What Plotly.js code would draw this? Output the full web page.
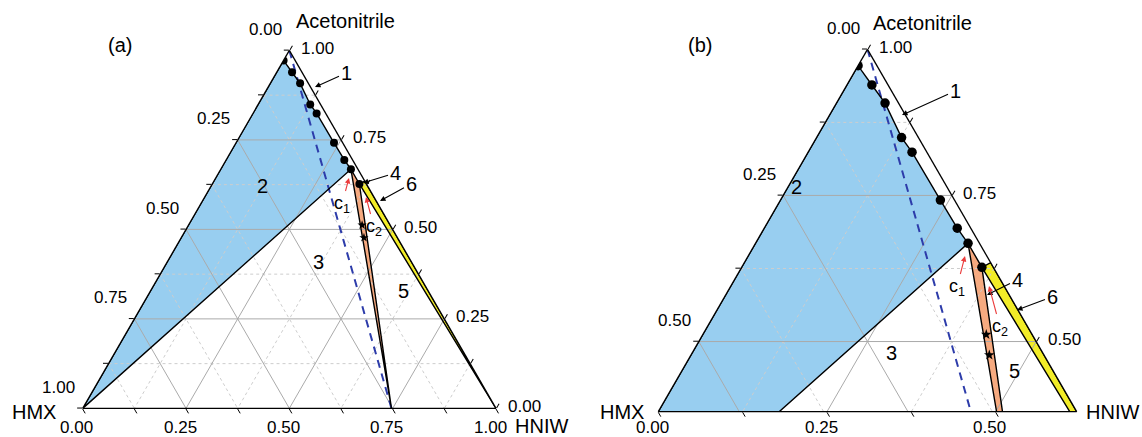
<!DOCTYPE html>
<html><head><meta charset="utf-8">
<script src="https://cdn.plot.ly/plotly-3.0.1.min.js"></script>
<style>html,body{margin:0;padding:0;background:#fff}#chart{width:1142px;height:437px}</style>
</head><body><div id="chart"></div>
<script>
// Components: a = Acetonitrile (top vertex), b = HMX (bottom-left), c = HNIW (bottom-right)
// HMX solubility branch (from binary HMX/acetonitrile point down to invariant point c1)
const solAcn = [0.972, 0.939, 0.908, 0.849, 0.824, 0.742, 0.694, 0.668];
const solHMX = [0.028, 0.024, 0.020, 0.025, 0.022, 0.021, 0.020, 0.017];
// invariant point c2
const c2Acn = 0.627, c2HMX = 0.017;
// binary HNIW / acetonitrile solubility point (on the right edge)
const hniwBinAcn = 0.635, hniwBinHMX = 0.0;
// cocrystal composition (no solvent)
const coCrystalHMX = 0.253;
// wet residue (stars)
const starAcn = [0.512, 0.477];
const starHMX = [0.068, 0.081];
// ticks
const majorVals = [0, 0.25, 0.5, 0.75, 1];
const minorVals = [0.125, 0.375, 0.625, 0.875];
const zoomMinAcn = 0.38;

const W = 1142, H = 437;
const FONT = 'Liberation Sans, Arial, sans-serif';
const BLUE = 'rgb(152,206,240)', ORANGE = 'rgb(246,170,128)', YELLOW = 'rgb(242,236,40)';
const DASH = 'rgb(45,60,170)';

// panel geometry (layout only)
const panels = {
  a: {sub: 'ternary', amin: 0, left: 82.7, right: 496.0, cy: 229.4, labDy: 19},
  b: {sub: 'ternary2', amin: zoomMinAcn, left: 658.3, right: 1076.7, cy: 230.5, labDy: 16}
};

function gridTrace(vals, amin, sub, style) {
  const A = [], B = [];
  const top = 1 - amin;
  vals.forEach(v => {
    if (v > amin + 1e-9 && v < 1 - 1e-9) { A.push(v, v, null); B.push(1 - v, 0, null); }
    if (v > 1e-9 && v < top - 1e-9) {
      A.push(1 - v, amin, null); B.push(v, v, null);          // constant HMX
      A.push(1 - v, amin, null); B.push(0, top - v, null);    // constant HNIW
    }
  });
  return {type: 'scatterternary', subplot: sub, mode: 'lines', a: A, b: B, line: style,
    hoverinfo: 'skip', showlegend: false, connectgaps: false};
}

function panelTraces(sub, amin, msize, ssize) {
  const t = [];
  const lastA = solAcn[solAcn.length - 1], lastB = solHMX[solHMX.length - 1];
  const blue = {a: [0, ...solAcn], b: [1, ...solHMX]};
  const orange = {a: [lastA, c2Acn, 0], b: [lastB, c2HMX, coCrystalHMX]};
  const yellow = {a: [c2Acn, hniwBinAcn, 0], b: [c2HMX, hniwBinHMX, 0]};
  [[blue, BLUE], [orange, ORANGE], [yellow, YELLOW]].forEach(([p, col]) => {
    t.push({type: 'scatterternary', subplot: sub, mode: 'lines', a: p.a, b: p.b, fill: 'toself',
      fillcolor: col, line: {width: 0, color: col}, hoverinfo: 'skip', showlegend: false});
  });
  t.push(gridTrace(minorVals, amin, sub, {color: 'rgb(205,205,205)', width: 1, dash: 'dot'}));
  t.push(gridTrace(majorVals, amin, sub, {color: 'rgb(170,170,170)', width: 1}));
  t.push({type: 'scatterternary', subplot: sub, mode: 'lines', a: [1, 0], b: [0, coCrystalHMX],
    line: {color: DASH, width: 2, dash: '8px,6px'}, hoverinfo: 'skip', showlegend: false});
  [blue, orange, yellow].forEach(p => {
    t.push({type: 'scatterternary', subplot: sub, mode: 'lines',
      a: [...p.a, p.a[0]], b: [...p.b, p.b[0]],
      line: {width: 1.4, color: 'black'}, hoverinfo: 'skip', showlegend: false});
  });
  t.push({type: 'scatterternary', subplot: sub, mode: 'markers', a: [...solAcn, c2Acn], b: [...solHMX, c2HMX],
    marker: {color: 'black', size: msize}, hoverinfo: 'skip', showlegend: false});
  t.push({type: 'scatterternary', subplot: sub, mode: 'markers', a: starAcn, b: starHMX,
    marker: {color: 'black', size: ssize, symbol: 'star'}, hoverinfo: 'skip', showlegend: false});
  return t;
}

function fmt(v) { return (Math.round(v * 100) / 100).toFixed(2); }

function axes(amin) {
  const top = 1 - amin;
  const all = [...majorVals, ...minorVals].sort((x, y) => x - y);
  const base = {showgrid: false, linecolor: 'black', linewidth: 1.3, ticks: 'outside', ticklen: 5,
    tickwidth: 1, tickcolor: 'black', tickmode: 'array', showticklabels: false,
    title: {text: ''}, layer: 'above traces'};
  const aV = all.filter(v => v >= amin - 1e-9);
  const hV = all.filter(v => v <= top + 1e-9);
  return {
    aaxis: Object.assign({}, base, {min: amin, tickvals: aV}),
    baxis: Object.assign({}, base, {min: 0, tickvals: hV.map(h => top - h)}),
    caxis: Object.assign({}, base, {min: 0, tickvals: hV})
  };
}

const px = x => x / W, py = y => 1 - y / H;
function txt(text, x, y, size) {
  return {text, x: px(x), y: py(y), xref: 'paper', yref: 'paper', showarrow: false,
    xanchor: 'center', yanchor: 'middle', font: {family: FONT, size: size || 20, color: 'black'}};
}
function arr(text, tx, ty, hx, hy, color, size) {
  return {text, x: px(hx), y: py(hy), xref: 'paper', yref: 'paper', showarrow: true,
    ax: tx - hx, ay: ty - hy, arrowhead: 2, arrowsize: 1, arrowwidth: 1.1,
    arrowcolor: color || 'black', standoff: 0,
    font: {family: FONT, size: size || 20, color: 'black'}};
}

// tick labels placed beside the ternary edges (layout positions from the panel geometry)
function tickLabels(P) {
  const S = (P.right - P.left) / (1 - P.amin);
  const h = (P.right - P.left) * Math.sqrt(3) / 2;
  const bottom = P.cy + h / 2;
  const pos = (a, c) => [P.left + S * (c + (a - P.amin) / 2), bottom - S * Math.sqrt(3) / 2 * (a - P.amin)];
  const out = [];
  majorVals.forEach(v => {
    if (1 - v >= P.amin - 1e-9) { const [x, y] = pos(1 - v, 0); out.push(txt(fmt(v), x - 24, y - 21, 17)); }
    if (v >= P.amin - 1e-9) { const [x, y] = pos(v, 1 - v); out.push(txt(fmt(v), x + 28, y - 2, 17)); }
    if (v <= 1 - P.amin + 1e-9) { const [x, y] = pos(P.amin, v); out.push(txt(fmt(v), x - 6, y + P.labDy, 17)); }
  });
  return out;
}

const data = [...panelTraces('ternary', 0, 8, 7), ...panelTraces('ternary2', zoomMinAcn, 9.5, 8)];

function domainOf(P, ypad) {
  const h = (P.right - P.left) * Math.sqrt(3) / 2 + ypad;
  return {x: [P.left / W, P.right / W], y: [1 - (P.cy + h / 2) / H, 1 - (P.cy - h / 2) / H]};
}

const layout = {
  width: W, height: H, margin: {l: 0, r: 0, t: 0, b: 0},
  paper_bgcolor: 'white', showlegend: false,
  font: {family: FONT, color: 'black'},
  ternary: Object.assign({sum: 1, bgcolor: 'white', domain: domainOf(panels.a, 6)}, axes(0)),
  ternary2: Object.assign({sum: 1, bgcolor: 'white', domain: domainOf(panels.b, 6)}, axes(zoomMinAcn)),
  annotations: [
    ...tickLabels(panels.a), ...tickLabels(panels.b),
    txt('(a)', 120, 45), txt('(b)', 700, 45),
    txt('Acetonitrile', 345, 21), txt('HMX', 34, 412), txt('HNIW', 541, 426),
    txt('Acetonitrile', 922, 23), txt('HMX', 622, 412), txt('HNIW', 1112, 412),
    txt('2', 262, 186), txt('3', 318, 262), txt('5', 403, 291),
    txt('2', 796, 187), txt('3', 891, 353), txt('5', 1014, 371),
    arr('1', 346, 73, 315, 87, 'black'),
    arr('4', 395, 173, 363, 183, 'black'),
    arr('6', 411, 184, 380, 201, 'black'),
    arr('c<sub>1</sub>', 342, 204, 349, 178, 'rgb(235,60,60)', 18),
    arr('c<sub>2</sub>', 374, 227, 366, 197, 'rgb(235,60,60)', 18),
    arr('1', 955, 91, 902, 115, 'black'),
    arr('4', 1017, 280, 987, 295, 'black'),
    arr('6', 1052, 297, 1017, 310, 'black'),
    arr('c<sub>1</sub>', 957, 287, 965, 256, 'rgb(235,60,60)', 18),
    arr('c<sub>2</sub>', 1000, 327, 989, 286, 'rgb(235,60,60)', 18)
  ]
};

Plotly.newPlot('chart', data, layout, {staticPlot: true, displayModeBar: false});
</script>
</body></html>
